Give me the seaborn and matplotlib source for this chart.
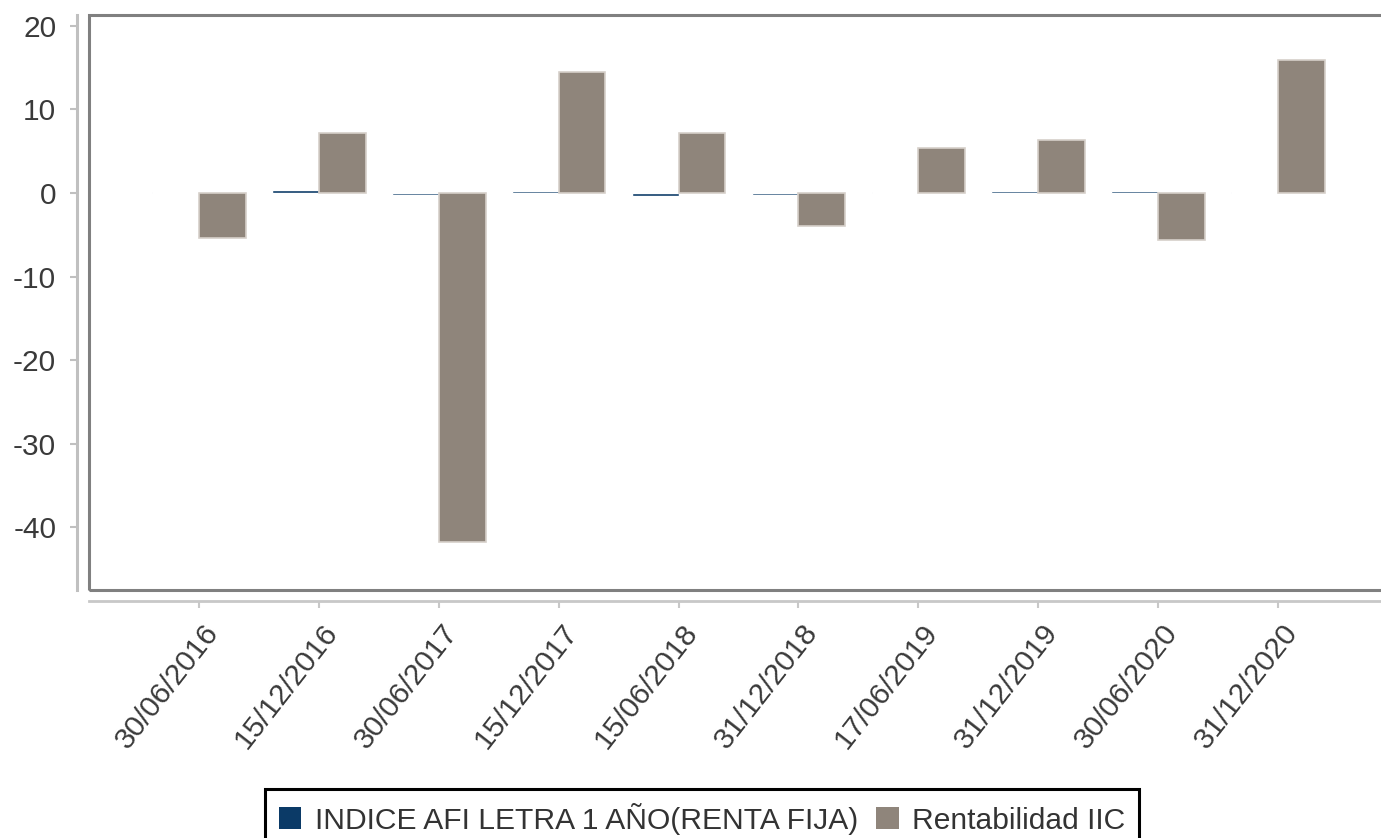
import matplotlib
matplotlib.use("Agg")
import matplotlib.pyplot as plt
import seaborn as sns
import pandas as pd
from matplotlib.patches import Rectangle, Patch
from matplotlib.transforms import ScaledTranslation

fechas = ["30/06/2016", "15/12/2016", "30/06/2017", "15/12/2017", "15/06/2018",
          "31/12/2018", "17/06/2019", "31/12/2019", "30/06/2020", "31/12/2020"]
indice_afi = [0.15, 0.40, -0.25, 0.25, -0.30, -0.20, 0.08, 0.20, 0.20, 0.08]
rentabilidad_iic = [-5.4, 7.2, -41.7, 14.5, 7.2, -4.0, 5.4, 6.3, -5.6, 15.9]
series_names = ["INDICE AFI LETRA 1 AÑO(RENTA FIJA)", "Rentabilidad IIC"]
colores = ["#0b3a67", "#8f857b"]
yticks = [-40, -30, -20, -10, 0, 10, 20]

sns.set_theme(style="white")
plt.rcParams["font.family"] = ["Liberation Sans", "DejaVu Sans"]
plt.rcParams["axes.unicode_minus"] = False

W, H = 1381, 838
fig = plt.figure(figsize=(W / 100, H / 100), dpi=100)
ax = fig.add_axes([89 / W, 1 - 590 / H, (1388 - 89) / W, (590 - 15) / H])

df = pd.DataFrame({
    "fecha": fechas * 2,
    "valor": indice_afi + rentabilidad_iic,
    "serie": [series_names[0]] * len(fechas) + [series_names[1]] * len(fechas),
})
sns.barplot(data=df, x="fecha", y="valor", hue="serie", hue_order=series_names,
            palette=colores, width=0.78, saturation=1, ax=ax, legend=False)

for bar in ax.containers[1]:
    bar.set_edgecolor("#d6d0ca")
    bar.set_linewidth(1.2)

ax.set_xlim(-0.917, 9.917)
ax.set_ylim(-47.5, 21.3)
ax.set_yticks(yticks)
ax.set_xlabel("")
ax.set_ylabel("")

ax.spines["top"].set_visible(False)
ax.spines["right"].set_visible(False)
ax.spines["left"].set_position(("outward", 8.6))
ax.spines["left"].set_color("#c0c0c0")
ax.spines["left"].set_linewidth(2.2)
ax.spines["bottom"].set_position(("outward", 7.9))
ax.spines["bottom"].set_color("#c8c8c8")
ax.spines["bottom"].set_linewidth(2.0)

ax.add_patch(Rectangle((0, 0), 1, 1, transform=ax.transAxes, fill=False,
                       edgecolor="#808080", linewidth=2.2, clip_on=False, zorder=5))

ax.tick_params(axis="y", left=True, length=5, width=1.5, color="#c0c0c0",
               pad=10, labelsize=21.5, labelcolor="#3a3a3a", direction="out")
ax.tick_params(axis="x", bottom=True, length=5, width=1.5, color="#c8c8c8",
               pad=14, labelsize=21.5, labelcolor="#3a3a3a", direction="out")

handles = [Patch(facecolor=c, edgecolor="none") for c in colores]
leg = fig.legend(handles, series_names, loc="upper center",
                 bbox_to_anchor=(702 / W, 1 - 789 / H), ncol=2, frameon=True,
                 fancybox=False, edgecolor="black", framealpha=1, fontsize=21.6,
                 handlelength=0.75, handleheight=0.75, handletextpad=0.45,
                 columnspacing=0.6, borderpad=0.45, borderaxespad=0)
leg.get_frame().set_linewidth(2.2)
for t in leg.get_texts():
    t.set_color("#333333")

offset = ScaledTranslation(14 / 100, 0, fig.dpi_scale_trans)
for lbl in ax.get_xticklabels():
    lbl.set_rotation(52)
    lbl.set_ha("right")
    lbl.set_va("center")
    lbl.set_rotation_mode("anchor")
    lbl.set_transform(lbl.get_transform() + offset)

fig.savefig("out.png", dpi=100)
